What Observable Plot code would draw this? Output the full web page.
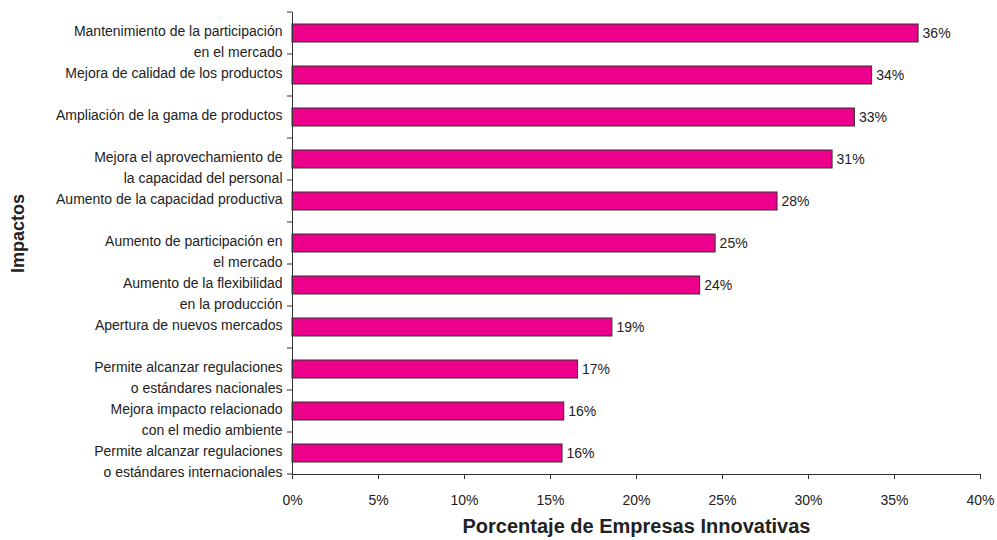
<!DOCTYPE html>
<html>
<head>
<meta charset="utf-8">
<script src="https://cdn.jsdelivr.net/npm/d3@7"></script>
<script src="https://cdn.jsdelivr.net/npm/@observablehq/plot@0.6"></script>
<style>
  html, body { margin: 0; padding: 0; background: #fff; }
  #chart { width: 997px; height: 540px; }
</style>
</head>
<body>
<div id="chart"></div>
<script>
const categories = [
  "Mantenimiento de la participación\nen el mercado",
  "Mejora de calidad de los productos",
  "Ampliación de la gama de productos",
  "Mejora el aprovechamiento de\nla capacidad del personal",
  "Aumento de la capacidad productiva",
  "Aumento de participación en\nel mercado",
  "Aumento de la flexibilidad\nen la producción",
  "Apertura de nuevos mercados",
  "Permite alcanzar regulaciones\no estándares nacionales",
  "Mejora impacto relacionado\ncon el medio ambiente",
  "Permite alcanzar regulaciones\no estándares internacionales"
];
const values = [36.4, 33.7, 32.7, 31.4, 28.2, 24.6, 23.7, 18.6, 16.6, 15.8, 15.7];
const valueLabels = ["36%", "34%", "33%", "31%", "28%", "25%", "24%", "19%", "17%", "16%", "16%"];
const xTicks = [0, 5, 10, 15, 20, 25, 30, 35, 40];
const xTitle = "Porcentaje de Empresas Innovativas";
const yTitle = "Impactos";

const data = categories.map((c, i) => ({cat: c, v: values[i], lab: valueLabels[i]}));

const chart = Plot.plot({
  width: 997,
  height: 540,
  marginTop: 12,
  marginBottom: 66,
  marginLeft: 292,
  marginRight: 17,
  style: {fontFamily: "'Liberation Sans', Arial, sans-serif", fontSize: "14px", color: "#222", background: "#fff"},
  x: {domain: [0, 40], ticks: xTicks},
  y: {domain: categories, paddingInner: 0.58, paddingOuter: 0.29, align: 0.5, axis: null},
  marks: [
    Plot.barX(data, {x: "v", y: "cat", fill: "#EC008C", stroke: "#333", strokeWidth: 1}),
    Plot.text(data, {x: "v", y: "cat", text: "lab", dx: 4, textAnchor: "start", fontSize: 14, fill: "#222"}),
    Plot.axisX({ticks: xTicks, tickFormat: d => d + "%", tickSize: 5, tickPadding: 16, fontSize: 14, label: null, stroke: "#333"}),
    Plot.text(categories, {y: d => d, text: d => d, frameAnchor: "left", dx: -10, textAnchor: "end", lineAnchor: "top", dy: -12, lineHeight: 1.5, fontSize: 14, fill: "#222"}),
    Plot.ruleX([0], {stroke: "#333", strokeWidth: 1}),
    Plot.frame({anchor: "bottom", stroke: "#333"}),
    Plot.text([xTitle], {frameAnchor: "bottom", dy: 58, fontSize: 20, fontWeight: "bold", fill: "#222"}),
    Plot.text([yTitle], {frameAnchor: "left", textAnchor: "middle", dx: -274, dy: -10, rotate: -90, fontSize: 18, fontWeight: "bold", fill: "#222"})
  ]
});

// category boundary ticks on the y axis (pointing left), from the plot's band scale
const ys = chart.scale("y");
const gap = (ys.step - ys.bandwidth) / 2;
const bounds = categories.map(c => ys.apply(c) - gap);
bounds.push(ys.apply(categories[categories.length - 1]) + ys.bandwidth + gap);
const xs = chart.scale("x");
const x0 = xs.apply(0);
d3.select(chart).append("g")
  .attr("stroke", "#333")
  .selectAll("line")
  .data(bounds)
  .join("line")
  .attr("x1", x0 - 5).attr("x2", x0)
  .attr("y1", d => d).attr("y2", d => d);

document.getElementById("chart").appendChild(chart);
</script>
</body>
</html>
